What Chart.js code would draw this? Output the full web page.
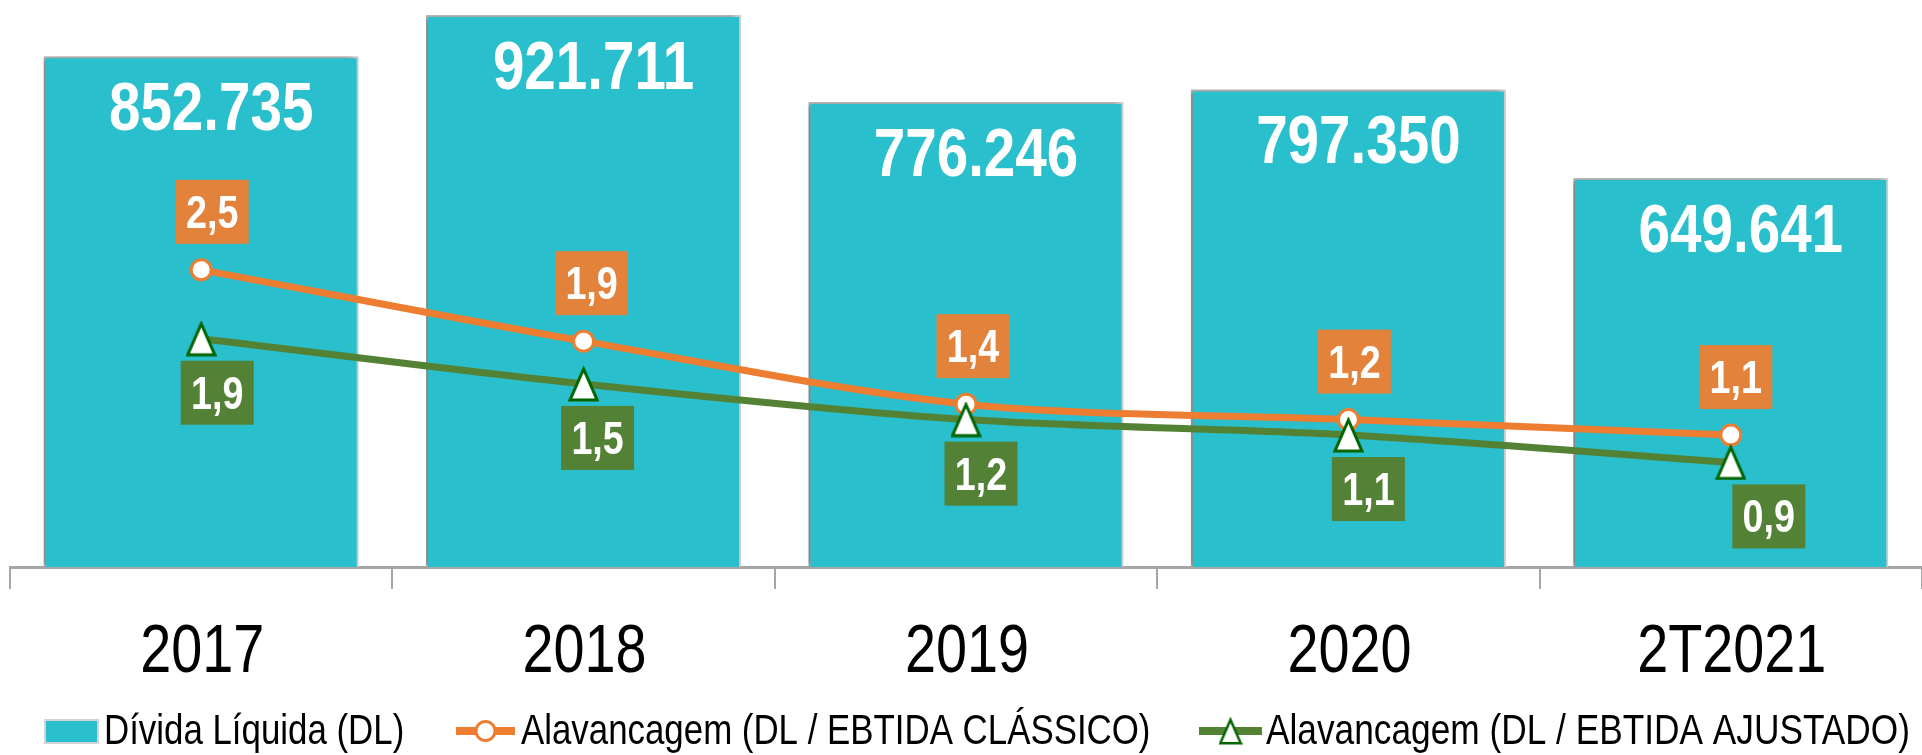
<!DOCTYPE html>
<html><head><meta charset="utf-8">
<script src="https://cdn.jsdelivr.net/npm/chart.js@4.4.0/dist/chart.umd.min.js"></script>
<style>html,body{margin:0;padding:0;background:#fff;overflow:hidden}#wrap{width:1922px;height:755px;position:relative}</style>
</head><body><div id="wrap"><canvas id="c" width="1922" height="755"></canvas></div>
<script>
// ---- data ----
const categories = ['2017', '2018', '2019', '2020', '2T2021'];
const dividaLiquida = [852735, 921711, 776246, 797350, 649641];
const alavClassico = [2.50, 1.90, 1.37, 1.24, 1.11];
const alavAjustado = [1.92, 1.54, 1.24, 1.11, 0.88];
const seriesNames = ['Dívida Líquida (DL)', 'Alavancagem (DL / EBTIDA CLÁSSICO)', 'Alavancagem (DL / EBTIDA AJUSTADO)'];

// ---- styles ----
const TEAL = '#29BFCC', ORANGE = '#ED7D31', ORANGE_BOX = '#E3823A', GREEN = '#548235', GREEN_BOX = '#538135', DKGREEN = '#006400';
const orangeLabelNudge = [11, 8, 7, 6, 5];
const greenLabelNudge = [16, 14, 15, 20, 38];

// narrow font detection
const mctx = document.createElement('canvas').getContext('2d');
mctx.font = '40px "Liberation Sans Narrow", monospace';
const wN = mctx.measureText('Alavancagem 2017 ABC').width;
mctx.font = '40px monospace';
const wM = mctx.measureText('Alavancagem 2017 ABC').width;
const hasNarrow = Math.abs(wN - wM) > 0.5;

function drawText(ctx, text, x, y, size, bold, color, align, baseline) {
  ctx.save();
  ctx.fillStyle = color;
  ctx.textAlign = align || 'center';
  ctx.textBaseline = baseline || 'alphabetic';
  if (hasNarrow) {
    ctx.font = (bold ? 'bold ' : '') + size + 'px "Liberation Sans Narrow"';
    ctx.fillText(text, x, y);
  } else {
    ctx.translate(x, y);
    ctx.scale(0.82, 1);
    ctx.font = (bold ? 'bold ' : '') + size + 'px "Liberation Sans", Arial, sans-serif';
    ctx.fillText(text, 0, 0);
  }
  ctx.restore();
}

function makeTriangle(w, h, lw) {
  const c = document.createElement('canvas');
  c.width = w; c.height = h;
  const g = c.getContext('2d');
  const i = lw / 2 + 0.5;
  g.beginPath();
  g.moveTo(w / 2, i + 1);
  g.lineTo(w - i, h - i);
  g.lineTo(i, h - i);
  g.closePath();
  g.fillStyle = '#fff';
  g.fill();
  g.lineWidth = lw;
  g.lineJoin = 'miter';
  g.strokeStyle = DKGREEN;
  g.stroke();
  return c;
}
const triImg = makeTriangle(31, 36, 3);
const triSmall = makeTriangle(24, 28, 2.5);

const fmtBar = v => Math.floor(v / 1000) + '.' + String(v % 1000).padStart(3, '0');
const fmtRatio = v => v.toFixed(1).replace('.', ',');

const customPlugin = {
  id: 'custom',
  beforeDatasetDraw(chart, args) {
    if (args.meta.type === 'bar') {
      const c = chart.ctx;
      c.save();
      c.shadowColor = 'rgba(0,0,0,0.4)';
      c.shadowBlur = 6;
      c.shadowOffsetX = -4;
      c.shadowOffsetY = 0;
    }
  },
  afterDatasetDraw(chart, args) {
    if (args.meta.type === 'bar') chart.ctx.restore();
  },
  afterDatasetsDraw(chart) {
    const ctx = chart.ctx;
    const ds = chart.data.datasets;
    // bar value labels
    const mb = chart.getDatasetMeta(2);
    mb.data.forEach((el, i) => {
      drawText(ctx, fmtBar(ds[2].data[i]), el.x + 10, el.y + 74, 69, true, '#fff', 'center');
    });
    // orange labels
    const mo = chart.getDatasetMeta(1);
    mo.data.forEach((el, i) => {
      const cx = el.x + orangeLabelNudge[i], cy = el.y - 58;
      ctx.fillStyle = ORANGE_BOX;
      ctx.fillRect(cx - 36.5, cy - 32, 73, 64);
      drawText(ctx, fmtRatio(ds[1].data[i]), cx, cy + 16, 46, true, '#fff', 'center');
    });
    // green labels
    const mg = chart.getDatasetMeta(0);
    mg.data.forEach((el, i) => {
      const cx = el.x + greenLabelNudge[i], cy = el.y + 54;
      ctx.fillStyle = GREEN_BOX;
      ctx.fillRect(cx - 36.5, cy - 32, 73, 64);
      drawText(ctx, fmtRatio(ds[0].data[i]), cx, cy + 16, 46, true, '#fff', 'center');
    });
  },
  afterDraw(chart) {
    const ctx = chart.ctx;
    const xs = chart.scales.x;
    // category labels
    chart.data.labels.forEach((lab, i) => {
      drawText(ctx, lab, xs.getPixelForValue(i) + 1, 672, 68, false, '#000', 'center');
    });
    // legend
    const ds = chart.data.datasets;
    const ly = 731, base = 744;
    // bar item
    ctx.fillStyle = '#D4D4D4';
    ctx.fillRect(44, 719, 55, 25);
    ctx.fillStyle = ds[2].backgroundColor;
    ctx.fillRect(46, 721, 51, 21);
    drawText(ctx, ds[2].label, 104, base, 42.5, false, '#000', 'left');
    // orange item
    ctx.strokeStyle = ds[1].borderColor; ctx.lineWidth = 8;
    ctx.beginPath(); ctx.moveTo(456, ly); ctx.lineTo(515, ly); ctx.stroke();
    ctx.beginPath(); ctx.arc(485.5, ly, 9.5, 0, Math.PI * 2);
    ctx.fillStyle = '#fff'; ctx.fill(); ctx.lineWidth = 3; ctx.strokeStyle = ds[1].pointBorderColor; ctx.stroke();
    drawText(ctx, ds[1].label, 521, base, 42.5, false, '#000', 'left');
    // green item
    ctx.strokeStyle = ds[0].borderColor; ctx.lineWidth = 8;
    ctx.beginPath(); ctx.moveTo(1199, ly); ctx.lineTo(1262, ly); ctx.stroke();
    ctx.drawImage(triSmall, 1230.5 - triSmall.width / 2, ly - triSmall.height / 2);
    drawText(ctx, ds[0].label, 1266, base, 43, false, '#000', 'left');
  }
};

new Chart(document.getElementById('c').getContext('2d'), {
  type: 'bar',
  data: {
    labels: categories,
    datasets: [
      { type: 'line', label: seriesNames[2], data: alavAjustado, yAxisID: 'y1',
        borderColor: GREEN, borderWidth: 7, tension: 0.3, fill: false,
        pointStyle: triImg, pointRadius: 15, pointBackgroundColor: '#fff', pointBorderColor: DKGREEN, order: 1 },
      { type: 'line', label: seriesNames[1], data: alavClassico, yAxisID: 'y1',
        borderColor: ORANGE, borderWidth: 7, tension: 0.3, fill: false,
        pointStyle: 'circle', pointRadius: 10, pointBorderWidth: 3,
        pointBackgroundColor: '#fff', pointBorderColor: ORANGE, order: 2 },
      { type: 'bar', label: seriesNames[0], data: dividaLiquida, yAxisID: 'y',
        backgroundColor: TEAL, borderColor: '#CFCFCF', borderWidth: 2,
        barPercentage: 0.824, categoryPercentage: 1, order: 3 }
    ]
  },
  options: {
    responsive: false,
    animation: false,
    events: [],
    layout: { autoPadding: false, padding: { left: 10, right: 0, top: 0, bottom: 166 } },
    plugins: { legend: { display: false }, tooltip: { enabled: false } },
    scales: {
      x: {
        offset: true,
        grid: { display: true, offset: true, drawOnChartArea: false, drawTicks: true, tickLength: 22, color: '#A6A6A6', lineWidth: 2 },
        border: { display: true, color: '#A6A6A6', width: 3 },
        ticks: { display: false }
      },
      y: { display: false, min: 0, max: 946700 },
      y1: { display: false, min: 0, max: 4.77 }
    }
  },
  plugins: [customPlugin]
});
</script>
</body></html>
